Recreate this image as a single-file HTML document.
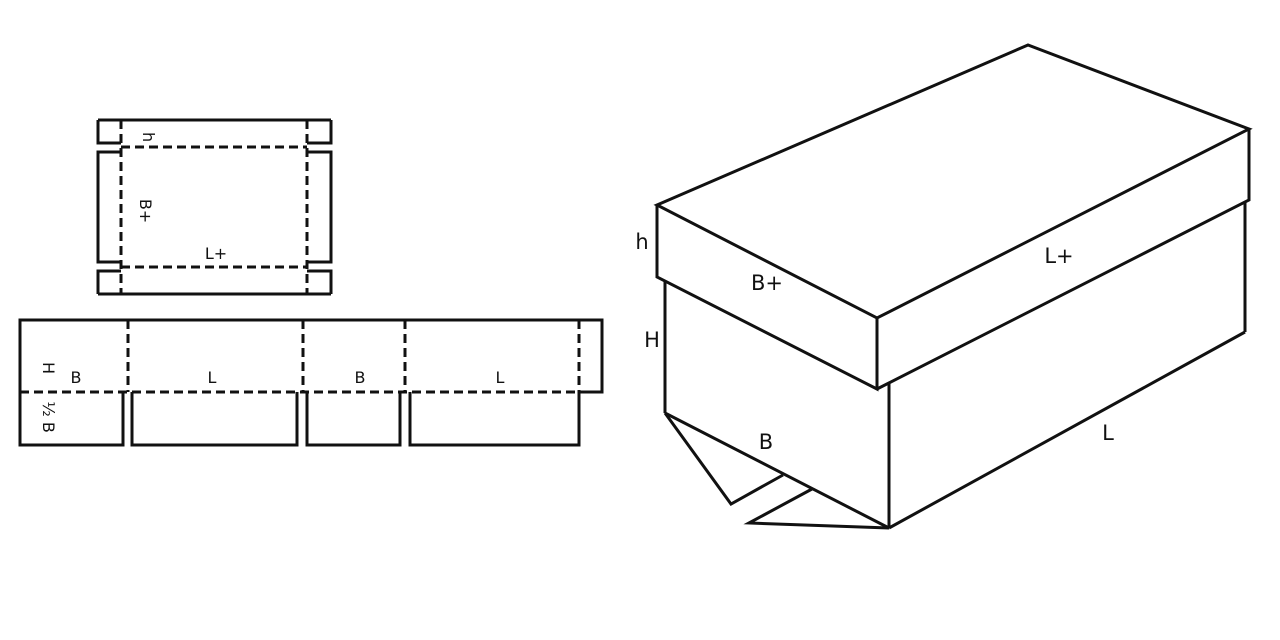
<!DOCTYPE html>
<html><head><style>body{margin:0;background:#fff}svg{display:block}text{font-family:"DejaVu Sans","Liberation Sans",sans-serif;fill:#111}</style></head>
<body>
<svg width="1280" height="640" viewBox="0 0 1280 640" xmlns="http://www.w3.org/2000/svg">
<g fill="none" stroke="#111" stroke-width="3" stroke-linejoin="miter">
<!-- top net -->
<line x1="98" y1="120" x2="331" y2="120"/>
<line x1="98" y1="294" x2="331" y2="294"/>
<polyline points="121,143 98,143 98,120"/>
<polyline points="307,143 331,143 331,120"/>
<polyline points="121,271 98,271 98,294"/>
<polyline points="307,271 331,271 331,294"/>
<polyline points="121,152 98,152 98,262 121,262"/>
<polyline points="307,152 331,152 331,262 307,262"/>
<g stroke-dasharray="9,5">
<line x1="121" y1="120" x2="121" y2="294"/>
<line x1="307" y1="120" x2="307" y2="294"/>
<line x1="121" y1="147" x2="307" y2="147"/>
<line x1="121" y1="267" x2="307" y2="267"/>
</g>
<!-- bottom net -->
<polyline points="20,392 20,320 602,320 602,392 579,392"/>
<polyline points="20,392 20,445 123,445 123,392"/>
<polyline points="132,392 132,445 297,445 297,392"/>
<polyline points="307,392 307,445 400,445 400,392"/>
<polyline points="410,392 410,445 579,445 579,392"/>
<g stroke-dasharray="9,5">
<line x1="20" y1="392" x2="579" y2="392"/>
<line x1="128" y1="320" x2="128" y2="392"/>
<line x1="303" y1="320" x2="303" y2="392"/>
<line x1="405" y1="320" x2="405" y2="392"/>
<line x1="579" y1="320" x2="579" y2="392"/>
</g>
<!-- box -->
<polygon points="657,205 1028,45 1249,129 877,318"/>
<polyline points="657,205 657,277 877,389 877,318"/>
<polyline points="877,389 1249,200 1249,129"/>
<line x1="1245" y1="203" x2="1245" y2="332"/>
<line x1="665" y1="281" x2="665" y2="413"/>
<line x1="889" y1="383" x2="889" y2="528"/>
<line x1="665" y1="413" x2="889" y2="528"/>
<line x1="889" y1="528" x2="1245" y2="332"/>
<polyline points="665,413 731,504 783,475"/>
<polyline points="812,489 749,523 889,528"/>
</g>
<g font-size="16">
<text transform="translate(143,137) rotate(90)" text-anchor="middle">h</text>
<text transform="translate(140,211) rotate(90)" text-anchor="middle">B+</text>
<text x="216" y="259" text-anchor="middle">L+</text>
<text transform="translate(43,368) rotate(90)" text-anchor="middle">H</text>
<text x="76" y="383" text-anchor="middle">B</text>
<text x="212" y="383" text-anchor="middle">L</text>
<text x="360" y="383" text-anchor="middle">B</text>
<text x="500" y="383" text-anchor="middle">L</text>
<text transform="translate(43,417) rotate(90)" text-anchor="middle">½ B</text>
</g>
<g font-size="21">
<text x="642" y="249" text-anchor="middle">h</text>
<text x="652" y="347" text-anchor="middle">H</text>
<text x="767" y="290" text-anchor="middle">B+</text>
<text x="1059" y="263" text-anchor="middle">L+</text>
<text x="766" y="449" text-anchor="middle">B</text>
<text x="1108" y="440" text-anchor="middle">L</text>
</g>
</svg>
</body></html>
